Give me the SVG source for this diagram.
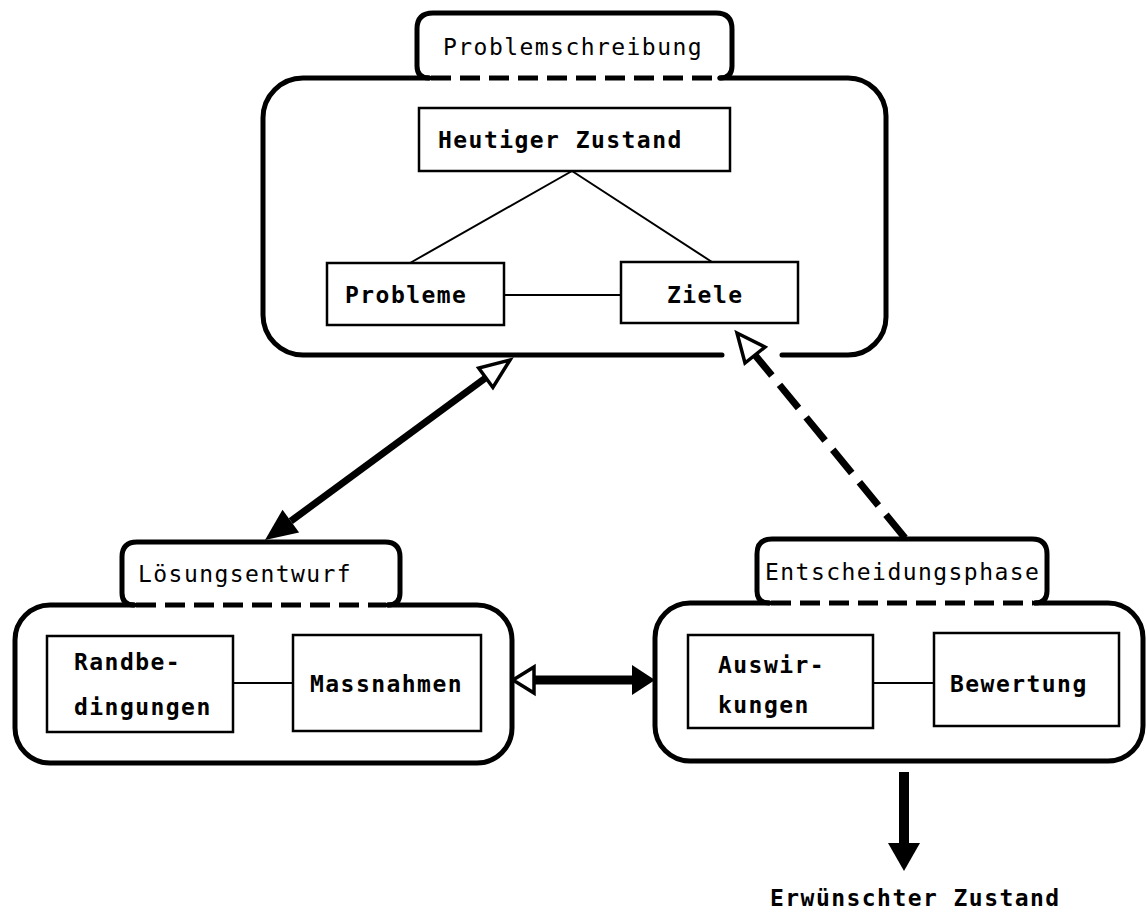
<svg xmlns="http://www.w3.org/2000/svg" width="1147" height="916" viewBox="0 0 1147 916">
<style>
.frame{fill:none;stroke:#000;stroke-width:5;stroke-linejoin:round;stroke-linecap:round}
.dash{fill:none;stroke:#000;stroke-width:5;stroke-dasharray:20 9}
.box{fill:#fff;stroke:#000;stroke-width:2.5}
.link{stroke:#000;stroke-width:2;fill:none}
text{font-family:"DejaVu Sans Mono","Liberation Mono",monospace;font-size:23px;letter-spacing:1.45px;fill:#000}
.b{font-weight:bold}
.open{fill:#fff;stroke:#000;stroke-width:3.5;stroke-linejoin:miter}
.solid{fill:#000;stroke:none}
</style>
<rect width="1147" height="916" fill="#fff"/>

<g id="problemschreibung">
  <path class="frame" d="M429 78 L303 78 A40 40 0 0 0 263 118 L263 315 A40 40 0 0 0 303 355 L722 355 M782 355 L848 355 A38 38 0 0 0 886 317 L886 116 A38 38 0 0 0 848 78 L720 78"/>
  <path class="frame" d="M429 78 Q417 78 417 66 L417 29 Q417 13 433 13 L716 13 Q732 13 732 29 L732 66 Q732 78 720 78"/>
  <path class="dash" d="M431 78 L718 78"/>
  <text x="443" y="55">Problemschreibung</text>
</g>

<g id="heutiger-zustand">
  <rect class="box" x="419" y="108" width="311" height="63"/>
  <text class="b" x="438" y="148">Heutiger Zustand</text>
</g>
<g id="probleme">
  <rect class="box" x="327" y="263" width="177" height="62"/>
  <text class="b" x="345" y="303">Probleme</text>
</g>
<g id="ziele">
  <rect class="box" x="621" y="262" width="177" height="61"/>
  <text class="b" x="667" y="303">Ziele</text>
</g>

<g id="loesungsentwurf">
  <path class="frame" d="M134 605 L50 605 A35 35 0 0 0 15 640 L15 728 A35 35 0 0 0 50 763 L477 763 A35 35 0 0 0 512 728 L512 640 A35 35 0 0 0 477 605 L388 605"/>
  <path class="frame" d="M134 605 Q122 605 122 593 L122 557 Q122 542 137 542 L385 542 Q400 542 400 557 L400 593 Q400 605 388 605"/>
  <path class="dash" d="M136 605 L386 605"/>
  <text x="138" y="582">Lösungsentwurf</text>
</g>
<g id="randbedingungen">
  <rect class="box" x="47" y="636" width="186" height="96"/>
  <text class="b" x="74" y="670">Randbe-</text>
  <text class="b" x="74" y="715">dingungen</text>
</g>
<g id="massnahmen">
  <rect class="box" x="293" y="635" width="188" height="96"/>
  <text class="b" x="310" y="692">Massnahmen</text>
</g>

<g id="entscheidungsphase">
  <path class="frame" d="M769 603 L690 603 A35 35 0 0 0 655 638 L655 726 A35 35 0 0 0 690 761 L1108 761 A35 35 0 0 0 1143 726 L1143 638 A35 35 0 0 0 1108 603 L1035 603"/>
  <path class="frame" d="M769 603 Q757 603 757 591 L757 554 Q757 539 772 539 L1032 539 Q1047 539 1047 554 L1047 591 Q1047 603 1035 603"/>
  <path class="dash" d="M771 603 L1033 603"/>
  <text x="765" y="580">Entscheidungsphase</text>
</g>
<g id="auswirkungen">
  <rect class="box" x="688" y="635" width="185" height="93"/>
  <text class="b" x="718" y="673">Auswir-</text>
  <text class="b" x="718" y="713">kungen</text>
</g>
<g id="bewertung">
  <rect class="box" x="934" y="633" width="185" height="93"/>
  <text class="b" x="950" y="692">Bewertung</text>
</g>

<g id="erwuenschter-zustand">
  <text class="b" x="770" y="906">Erwünschter Zustand</text>
</g>

<g id="connectors">
  <path class="link" d="M572 171 L410 263 M572 171 L712 262 M504 295 L621 295"/>
  <path class="link" d="M233 683 L293 683 M873 683 L934 683"/>
  <path d="M290.8 521.1 L485.8 377.8" stroke="#000" stroke-width="7" fill="none"/>
  <polygon class="open" points="510,360 492.9,387.5 478.7,368.1"/>
  <polygon class="solid" points="265,540 299.1,532.4 282.5,509.8"/>
  <path d="M534 680 L634 680" stroke="#000" stroke-width="9" fill="none"/>
  <polygon class="open" points="513,680 534,667 534,693"/>
  <polygon class="solid" points="632,665 655,680 632,695"/>
  <path d="M905 538 L755 355" stroke="#000" stroke-width="7" stroke-dasharray="30 12" fill="none"/>
  <polygon class="open" points="737,333 765,347 745,363"/>
  <path d="M904 772 L904 845" stroke="#000" stroke-width="10" fill="none"/>
  <polygon class="solid" points="888,843 920,843 904,871"/>
</g>
</svg>
